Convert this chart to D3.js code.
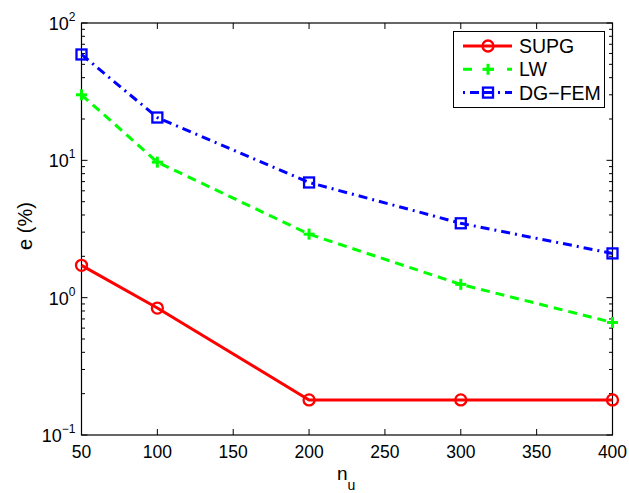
<!DOCTYPE html>
<html><head><meta charset="utf-8">
<script src="https://cdn.jsdelivr.net/npm/d3@7"></script>
<style>body{margin:0;background:#fff}svg{display:block}text{font-family:Arial,"Liberation Sans",Helvetica,sans-serif}</style>
</head><body><svg id="c" width="629" height="493"></svg>
<script>
const nu = [50, 100, 200, 300, 400];
const supg = [1.72, 0.84, 0.18, 0.18, 0.18];
const lw = [30, 9.7, 2.9, 1.25, 0.66];
const dgfem = [59, 20.5, 6.9, 3.48, 2.1];
const xTicks = [50, 100, 150, 200, 250, 300, 350, 400];
const yDecades = [-1, 0, 1, 2];
const seriesNames = ["SUPG", "LW", "DG\u2212FEM"];

const svg = d3.select("#c");
const L = 81.5, R = 612.5, T = 23, B = 435;
const x = d3.scaleLinear().domain([50, 400]).range([L, R]);
const y = d3.scaleLog().domain([0.1, 100]).range([B, T]);

const g = svg.append("g");
const minors = [];
for (let d = -1; d < 2; d++) for (let k = 2; k <= 9; k++) minors.push(k * Math.pow(10, d));
minors.forEach(v => {
  g.append("line").attr("x1", L).attr("x2", L + 3.5).attr("y1", y(v)).attr("y2", y(v)).attr("stroke", "#000").attr("stroke-width", 1);
  g.append("line").attr("x1", R).attr("x2", R - 3.5).attr("y1", y(v)).attr("y2", y(v)).attr("stroke", "#000").attr("stroke-width", 1);
});
yDecades.forEach(d => {
  const v = Math.pow(10, d);
  g.append("line").attr("x1", L).attr("x2", L + 6).attr("y1", y(v)).attr("y2", y(v)).attr("stroke", "#000");
  g.append("line").attr("x1", R).attr("x2", R - 6).attr("y1", y(v)).attr("y2", y(v)).attr("stroke", "#000");
  const t = g.append("text").attr("x", L - 6).attr("y", y(v) + 7).attr("text-anchor", "end").attr("font-size", 18);
  t.append("tspan").text("10");
  t.append("tspan").attr("dy", -9).attr("font-size", 12).text(d < 0 ? "\u22121" : d);
});
xTicks.forEach(v => {
  g.append("line").attr("x1", x(v)).attr("x2", x(v)).attr("y1", B).attr("y2", B - 6).attr("stroke", "#000");
  g.append("line").attr("x1", x(v)).attr("x2", x(v)).attr("y1", T).attr("y2", T + 6).attr("stroke", "#000");
  g.append("text").attr("x", x(v)).attr("y", B + 23).attr("text-anchor", "middle").attr("font-size", 17.5).text(v);
});
g.append("rect").attr("x", L).attr("y", T).attr("width", R - L).attr("height", B - T)
  .attr("fill", "none").attr("stroke", "#000").attr("stroke-width", 1.2);

const xl = g.append("text").attr("x", 337).attr("y", 480).attr("font-size", 19);
xl.append("tspan").text("n");
xl.append("tspan").attr("dy", 10).attr("font-size", 14).text("u");
g.append("text").attr("transform", "translate(32," + 226 + ") rotate(-90)").attr("text-anchor", "middle").attr("font-size", 20).text("e (%)");

const series = [
  {name: seriesNames[0], vals: supg, color: "#ff0000", dash: null, marker: "circle"},
  {name: seriesNames[1], vals: lw, color: "#00ff00", dash: "9,6", marker: "plus"},
  {name: seriesNames[2], vals: dgfem, color: "#0000ff", dash: "9,5,2,5", marker: "square"}
];
const line = d3.line().x((d, i) => x(nu[i])).y(d => y(d));
function marker(sel, type, cx, cy, color) {
  if (type === "circle") sel.append("circle").attr("cx", cx).attr("cy", cy).attr("r", 5.5).attr("fill", "none").attr("stroke", color).attr("stroke-width", 2.3);
  else if (type === "square") sel.append("rect").attr("x", cx - 5).attr("y", cy - 5).attr("width", 10).attr("height", 10).attr("fill", "none").attr("stroke", color).attr("stroke-width", 2.3);
  else {
    sel.append("line").attr("x1", cx - 5.5).attr("x2", cx + 5.5).attr("y1", cy).attr("y2", cy).attr("stroke", color).attr("stroke-width", 3);
    sel.append("line").attr("x1", cx).attr("x2", cx).attr("y1", cy - 5.5).attr("y2", cy + 5.5).attr("stroke", color).attr("stroke-width", 3);
  }
}
series.forEach(s => {
  g.append("path").attr("d", line(s.vals)).attr("fill", "none").attr("stroke", s.color).attr("stroke-width", 3)
    .attr("stroke-dasharray", s.dash);
  s.vals.forEach((v, i) => marker(g, s.marker, x(nu[i]), y(v), s.color));
});

const lg = g.append("g");
lg.append("rect").attr("x", 453.5).attr("y", 31.5).attr("width", 151).attr("height", 76).attr("fill", "#fff").attr("stroke", "#000").attr("stroke-width", 1);
series.forEach((s, i) => {
  const cy = 46 + i * 23.3;
  lg.append("line").attr("x1", 463).attr("x2", 512).attr("y1", cy).attr("y2", cy).attr("stroke", s.color).attr("stroke-width", 3)
    .attr("stroke-dasharray", s.dash ? (i === 1 ? "9,13,9,13" : "2,5,9,5,9,5") : null);
  marker(lg, s.marker, 488, cy, s.color);
  lg.append("text").attr("x", 519).attr("y", cy + 7).attr("font-size", 19.5).text(s.name);
});
</script></body></html>
